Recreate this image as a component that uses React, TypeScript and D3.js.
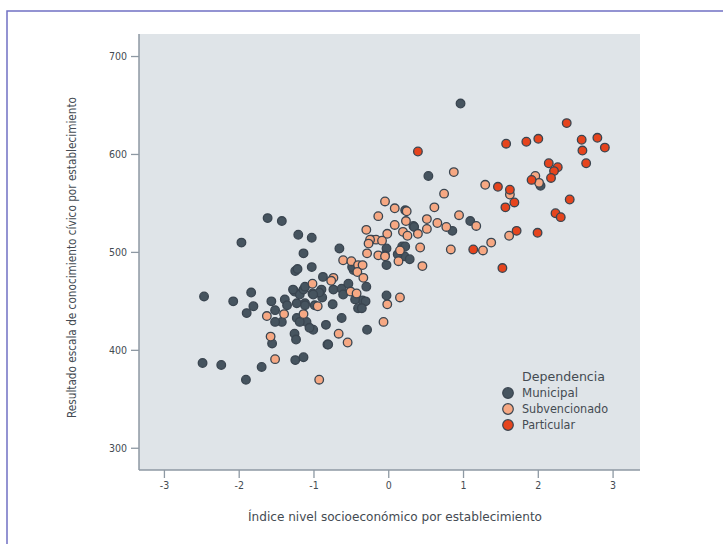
import * as d3 from "d3";

// Índice NSE (x) vs puntaje cívico (y), por dependencia
const municipal: [number, number][] = [
  [0.96, 652], [0.53, 578], [-1.62, 535], [-1.43, 532], [-1.97, 510], [-1.21, 518],
  [-1.03, 515], [-1.14, 499], [-0.66, 504], [-1.25, 481], [-1.22, 483], [-1.03, 485],
  [-0.88, 475], [-2.47, 455], [-2.08, 450], [-1.84, 459], [-1.81, 445], [-1.9, 438],
  [-1.57, 450], [-1.52, 441], [-1.39, 452], [-1.36, 446], [-1.43, 429], [-1.52, 429],
  [-1.26, 460], [-1.19, 457], [-1.23, 448], [-1.12, 448], [-1.1, 429], [-1.01, 421],
  [-1.28, 462], [-1.14, 462], [-1.02, 458], [-0.9, 462], [-0.74, 462], [-0.63, 463],
  [-0.54, 468], [-0.3, 465], [-0.35, 451], [-0.41, 443], [-1.12, 446], [-1.23, 433],
  [-1.06, 423], [-0.84, 426], [-0.63, 433], [-0.29, 421], [-0.03, 456], [-0.47, 482],
  [-1.56, 407], [-1.26, 417], [-1.24, 411], [-1.25, 390], [-1.14, 393], [-1.7, 383],
  [-1.91, 370], [-2.49, 387], [-2.24, 385], [-0.82, 406], [-0.75, 447], [-0.61, 457],
  [-0.45, 452], [-0.31, 450], [-0.36, 443], [-0.89, 454], [-0.93, 459], [-1.01, 457],
  [-0.03, 487], [-0.03, 504], [0.18, 506], [0.21, 496], [0.28, 493], [0.33, 527],
  [0.22, 543], [0.34, 526], [0.85, 522], [1.09, 532], [2.03, 568], [0.22, 506],
  [-0.23, 513], [-0.05, 497], [-0.49, 485], [0.12, 498], [-0.99, 446], [-1.19, 429],
  [-0.81, 406], [-1.12, 465],
];

const subvencionado: [number, number][] = [
  [0.87, 582], [0.74, 560], [-0.05, 552], [0.08, 545], [0.61, 546], [0.24, 542],
  [-0.14, 537], [0.94, 538], [1.29, 569], [1.96, 578], [2.01, 571], [1.62, 559],
  [1.17, 527], [0.51, 534], [0.65, 530], [0.77, 526], [0.51, 524], [0.08, 528],
  [0.23, 532], [0.19, 521], [0.25, 517], [0.39, 519], [-0.3, 523], [-0.02, 519],
  [-0.17, 513], [-0.09, 512], [-0.25, 513], [-0.27, 509], [0.42, 505], [0.15, 502],
  [0.83, 503], [1.26, 502], [1.37, 510], [1.61, 517], [-0.29, 499], [-0.14, 497],
  [-0.05, 496], [0.13, 491], [0.45, 486], [-0.61, 492], [-0.5, 491], [-0.41, 487],
  [-0.35, 487], [-0.42, 480], [-0.34, 474], [-0.74, 474], [-0.77, 471], [-1.02, 468],
  [-0.51, 460], [-0.43, 458], [0.15, 454], [-0.02, 447], [-0.95, 445], [-1.63, 435],
  [-1.4, 437], [-1.14, 437], [-0.07, 429], [-0.67, 417], [-0.55, 408], [-1.58, 414],
  [-1.52, 391], [-0.93, 370],
];

const particular: [number, number][] = [
  [0.39, 603], [2.38, 632], [1.57, 611], [1.84, 613], [2.0, 616], [2.58, 615],
  [2.79, 617], [2.59, 604], [2.89, 607], [2.64, 591], [2.14, 591], [2.26, 587],
  [2.21, 583], [2.17, 576], [1.91, 574], [1.46, 567], [1.62, 564], [1.68, 551],
  [1.56, 546], [2.42, 554], [2.23, 540], [2.3, 536], [1.71, 522], [1.99, 520],
  [1.13, 503], [1.52, 484],
];

const xTicks = [-3, -2, -1, 0, 1, 2, 3];
const yTicks = [300, 400, 500, 600, 700];
const grupos = ["Municipal", "Subvencionado", "Particular"];
const colores = ["#46545f", "#f6a883", "#e6441d"];

const W = 723;
const H = 544;
const plot = { left: 139, right: 640, top: 34, bottom: 470 };
const font = "'DejaVu Sans Condensed', 'Liberation Sans Narrow', 'Noto Sans', sans-serif";
const axisColor = "#8e99a3";
const textColor = "#444b52";
// ancho de los textos de la leyenda en la referencia
const anchoLeyenda = [56, 86, 53];

export default function App() {
  const x = d3.scaleLinear().domain([-3.34, 3.36]).range([plot.left, plot.right]);
  const y = d3.scaleLinear().domain([277.8, 723]).range([plot.bottom, plot.top]);

  const series = [municipal, subvencionado, particular];

  return (
    <svg
      width={W}
      height={H}
      style={{ position: "absolute", left: 0, top: 0, background: "#fff" }}
      fontFamily={font}
    >
      {/* marco exterior */}
      <rect x={7} y={11} width={760} height={600} fill="none" stroke="#7070c4" strokeWidth={1.5} />

      {/* área del gráfico */}
      <rect
        x={plot.left}
        y={plot.top}
        width={plot.right - plot.left}
        height={plot.bottom - plot.top}
        fill="#dfe4e8"
      />

      {/* puntos */}
      {series.map((pts, i) => (
        <g key={grupos[i]}>
          {pts.map((d, j) => (
            <circle
              key={j}
              cx={x(d[0])}
              cy={y(d[1])}
              r={4.3}
              fill={colores[i]}
              stroke="#3a4550"
              strokeWidth={1.3}
            />
          ))}
        </g>
      ))}

      {/* ejes */}
      <line x1={plot.left} x2={plot.left} y1={plot.top} y2={plot.bottom} stroke={axisColor} strokeWidth={1.5} />
      <line x1={plot.left} x2={plot.right} y1={plot.bottom} y2={plot.bottom} stroke={axisColor} strokeWidth={1.5} />

      {yTicks.map((t) => (
        <g key={t} transform={`translate(0,${y(t)})`}>
          <line x1={plot.left - 8} x2={plot.left} stroke={axisColor} strokeWidth={1.3} />
          <text x={plot.left - 12} dy="0.35em" textAnchor="end" fontSize={10.5} fill={textColor}>
            {t}
          </text>
        </g>
      ))}

      {xTicks.map((t) => (
        <g key={t} transform={`translate(${x(t)},0)`}>
          <line y1={plot.bottom} y2={plot.bottom + 8} stroke={axisColor} strokeWidth={1.3} />
          <text y={plot.bottom + 19} textAnchor="middle" fontSize={10.5} fill={textColor}>
            {t}
          </text>
        </g>
      ))}

      {/* títulos de ejes */}
      <text
        x={248}
        y={521}
        fontSize={13}
        fill={textColor}
        textLength={294}
        lengthAdjust="spacingAndGlyphs"
      >
        Índice nivel socioeconómico por establecimiento
      </text>
      <text
        transform={`translate(76,418) rotate(-90)`}
        fontSize={13}
        fill={textColor}
        textLength={321}
        lengthAdjust="spacingAndGlyphs"
      >
        Resultado escala de conocimiento cívico por establecimiento
      </text>

      {/* leyenda */}
      <text x={522} y={381} fontSize={13} fill={textColor} textLength={83} lengthAdjust="spacingAndGlyphs">
        Dependencia
      </text>
      {grupos.map((g, i) => (
        <g key={g} transform={`translate(0,${393 + i * 16})`}>
          <circle cx={508} cy={0} r={5.3} fill={colores[i]} stroke="#3a4550" strokeWidth={1.2} />
          <text
            x={522}
            dy="0.35em"
            fontSize={12.5}
            fill={textColor}
            textLength={anchoLeyenda[i]}
            lengthAdjust="spacingAndGlyphs"
          >
            {g}
          </text>
        </g>
      ))}
    </svg>
  );
}
